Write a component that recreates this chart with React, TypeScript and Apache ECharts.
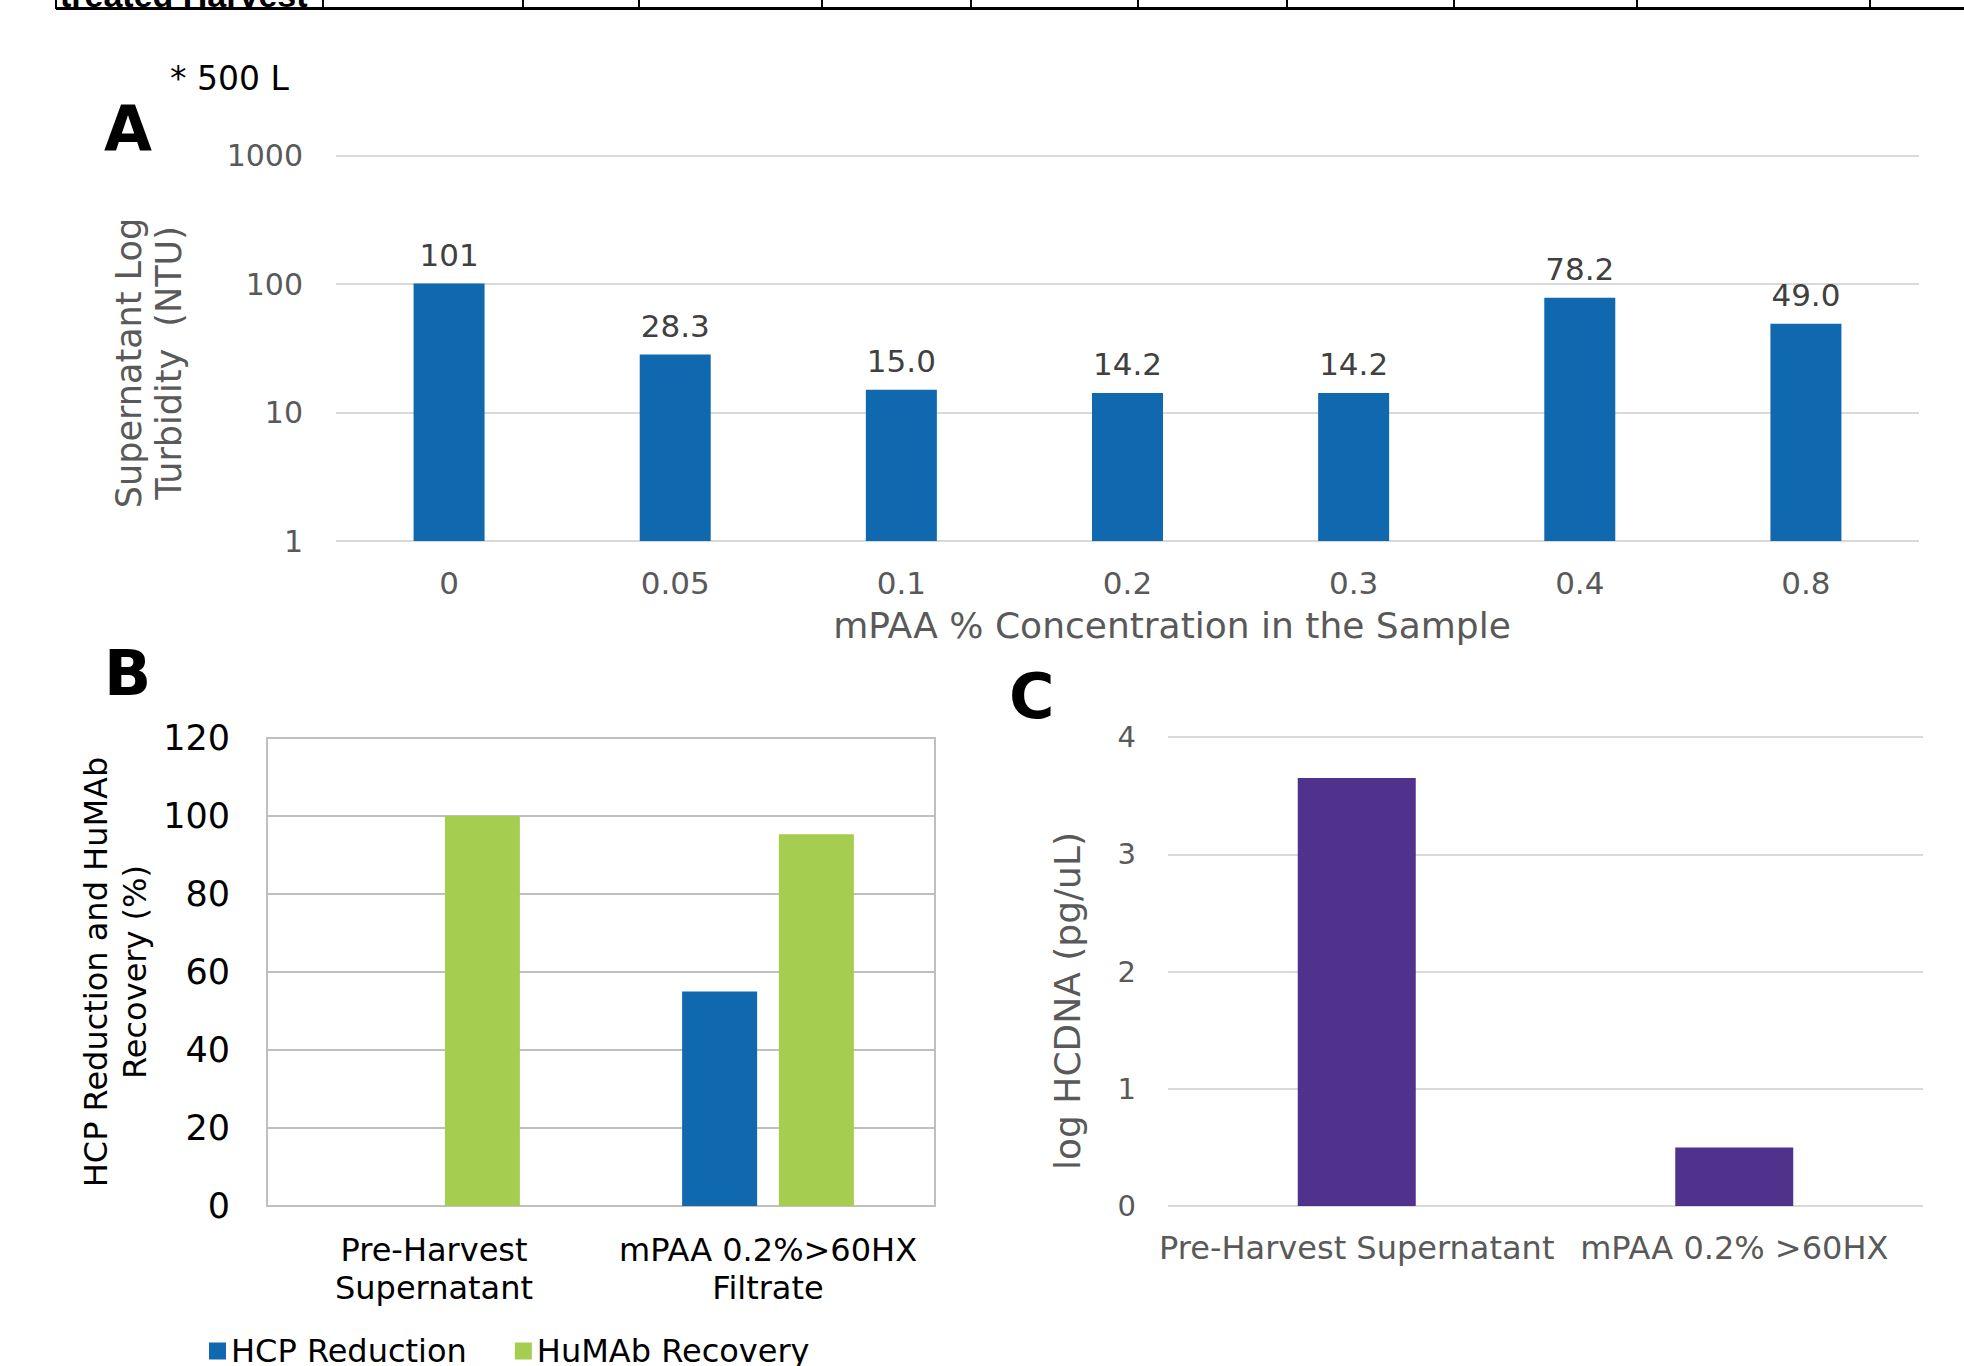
import React, { useEffect, useRef } from 'react';
import * as echarts from 'echarts';

// ---------- DATA ----------
const concCategories = ['0', '0.05', '0.1', '0.2', '0.3', '0.4', '0.8'];
const turbidityValues = [101, 28.3, 15.0, 14.2, 14.2, 78.2, 49.0];

const bCategories = ['Pre-Harvest\nSupernatant', 'mPAA 0.2%>60HX\nFiltrate'];
const hcpReduction = [0, 55];
const humabRecovery = [100, 95.3];
const bSeriesNames = ['HCP Reduction', 'HuMAb Recovery'];

const cCategories = ['Pre-Harvest Supernatant', 'mPAA 0.2% >60HX'];
const hcdnaLog = [3.65, 0.5];

const tableCellText = 'treated Harvest';

// ---------- STYLE / LAYOUT ----------
const FONT = '"DejaVu Sans", Verdana, sans-serif';
const BLUE = '#1068ae';
const GREEN = '#a5cd50';
const PURPLE = '#50318c';
const GRAY_TXT = '#595959';
const LIGHT_GRID = '#d9d9d9';
const B_GRID = '#bfbfbf';
const tableColX = [56, 323, 523, 639, 822, 971, 1138, 1287, 1454, 1637, 1870];

function txt(text: string, x: number, y: number, size: number, color: string, opts: any = {}) {
  return {
    type: 'text',
    x,
    y,
    rotation: opts.rotation || 0,
    silent: true,
    style: {
      text,
      fill: color,
      font: `${opts.weight || 'normal'} ${size}px ${opts.family || FONT}`,
      align: opts.align || 'left',
      textAlign: opts.align || 'left',
      verticalAlign: 'middle',
      textVerticalAlign: 'middle',
      lineHeight: opts.lineHeight || size,
    },
  };
}

export default function App() {
  const ref = useRef<HTMLDivElement>(null);

  useEffect(() => {
    const chart = echarts.init(ref.current!, null, { renderer: 'svg' });

    const graphic: any[] = [];
    // table fragment at top
    graphic.push({
      type: 'line',
      silent: true,
      shape: { x1: 56, y1: 8.5, x2: 1964, y2: 8.5 },
      style: { stroke: '#000', lineWidth: 3 },
    });
    tableColX.forEach((x) => {
      graphic.push({
        type: 'line',
        silent: true,
        shape: { x1: x, y1: 0, x2: x, y2: 9 },
        style: { stroke: '#000', lineWidth: 2 },
      });
    });
    graphic.push(txt(tableCellText, 60, -5, 34, '#000', { weight: 'bold', family: '"Liberation Sans", Arial, sans-serif' }));

    // panel letters & notes
    graphic.push(txt('* 500 L', 170, 78, 33, '#000'));
    graphic.push(txt('A', 104, 128, 62, '#000', { weight: 'bold' }));
    graphic.push(txt('B', 104, 673, 62, '#000', { weight: 'bold' }));
    graphic.push(txt('C', 1009, 696, 62, '#000', { weight: 'bold' }));

    // axis titles
    graphic.push(txt('mPAA % Concentration in the Sample', 1172, 625, 36, GRAY_TXT, { align: 'center' }));
    graphic.push(
      txt('Supernatant Log\nTurbidity  (NTU)', 149, 363, 35, GRAY_TXT, {
        align: 'center',
        rotation: Math.PI / 2,
        lineHeight: 40,
      })
    );
    graphic.push(
      txt('HCP Reduction and HuMAb\nRecovery (%)', 115.5, 972, 32, '#000', {
        align: 'center',
        rotation: Math.PI / 2,
        lineHeight: 39,
      })
    );
    graphic.push(
      txt('log HCDNA (pg/uL)', 1067, 1001, 36, GRAY_TXT, {
        align: 'center',
        rotation: Math.PI / 2,
      })
    );

    const option: any = {
      animation: false,
      backgroundColor: '#ffffff',
      textStyle: { fontFamily: FONT },
      grid: [
        { left: 336, top: 155.5, width: 1583, height: 385.5 },
        { left: 267, top: 738, width: 668, height: 468, show: true, borderColor: B_GRID, borderWidth: 2 },
        { left: 1168, top: 737, width: 755, height: 469 },
      ],
      legend: {
        data: bSeriesNames,
        left: 204,
        top: 1330,
        icon: 'rect',
        itemWidth: 17,
        itemHeight: 17,
        itemGap: 48,
        selectedMode: false,
        textStyle: { fontSize: 32, color: '#000', fontFamily: FONT, lineHeight: 32 },
      },
      xAxis: [
        {
          gridIndex: 0,
          type: 'category',
          data: concCategories,
          axisLine: { show: false },
          axisTick: { show: false },
          axisLabel: { color: GRAY_TXT, fontSize: 31, fontFamily: FONT, margin: 26 },
        },
        {
          gridIndex: 1,
          type: 'category',
          data: bCategories,
          axisLine: { show: false },
          axisTick: { show: false },
          axisLabel: { color: '#000', fontSize: 32, lineHeight: 38, fontFamily: FONT, margin: 25, interval: 0 },
        },
        {
          gridIndex: 2,
          type: 'category',
          data: cCategories,
          axisLine: { show: false },
          axisTick: { show: false },
          axisLabel: { color: GRAY_TXT, fontSize: 32, fontFamily: FONT, margin: 26, interval: 0 },
        },
      ],
      yAxis: [
        {
          gridIndex: 0,
          type: 'log',
          logBase: 10,
          min: 1,
          max: 1000,
          axisLine: { show: false },
          axisTick: { show: false },
          axisLabel: {
            color: GRAY_TXT,
            fontSize: 30,
            fontFamily: FONT,
            margin: 33,
            formatter: (v: number) => String(Math.round(v)),
          },
          splitLine: { lineStyle: { color: LIGHT_GRID, width: 2 } },
        },
        {
          gridIndex: 1,
          type: 'value',
          min: 0,
          max: 120,
          interval: 20,
          axisLine: { show: false },
          axisTick: { show: false },
          axisLabel: { color: '#000', fontSize: 35, fontFamily: FONT, margin: 37 },
          splitLine: { lineStyle: { color: B_GRID, width: 2 } },
        },
        {
          gridIndex: 2,
          type: 'value',
          min: 0,
          max: 4,
          interval: 1,
          axisLine: { show: false },
          axisTick: { show: false },
          axisLabel: { color: GRAY_TXT, fontSize: 29, fontFamily: FONT, margin: 32 },
          splitLine: { lineStyle: { color: LIGHT_GRID, width: 2 } },
        },
      ],
      series: [
        {
          type: 'bar',
          name: 'Supernatant Turbidity',
          xAxisIndex: 0,
          yAxisIndex: 0,
          data: turbidityValues,
          barWidth: 71,
          itemStyle: { color: BLUE },
          label: {
            show: true,
            position: 'top',
            distance: 13,
            color: '#404040',
            fontSize: 31,
            fontFamily: FONT,
            formatter: (p: any) => (p.value >= 100 ? p.value.toFixed(0) : p.value.toFixed(1)),
          },
        },
        {
          type: 'bar',
          name: bSeriesNames[0],
          xAxisIndex: 1,
          yAxisIndex: 1,
          data: hcpReduction,
          barWidth: 75,
          barGap: '29%',
          itemStyle: { color: BLUE },
        },
        {
          type: 'bar',
          name: bSeriesNames[1],
          xAxisIndex: 1,
          yAxisIndex: 1,
          data: humabRecovery,
          barWidth: 75,
          barGap: '29%',
          itemStyle: { color: GREEN },
        },
        {
          type: 'bar',
          name: 'log HCDNA',
          xAxisIndex: 2,
          yAxisIndex: 2,
          data: hcdnaLog,
          barWidth: 118,
          itemStyle: { color: PURPLE },
        },
      ],
      graphic,
    };

    chart.setOption(option);
    return () => chart.dispose();
  }, []);

  return (
    <div
      ref={ref}
      style={{ position: 'absolute', left: 0, top: 0, width: 1964, height: 1366, background: '#fff' }}
    />
  );
}
